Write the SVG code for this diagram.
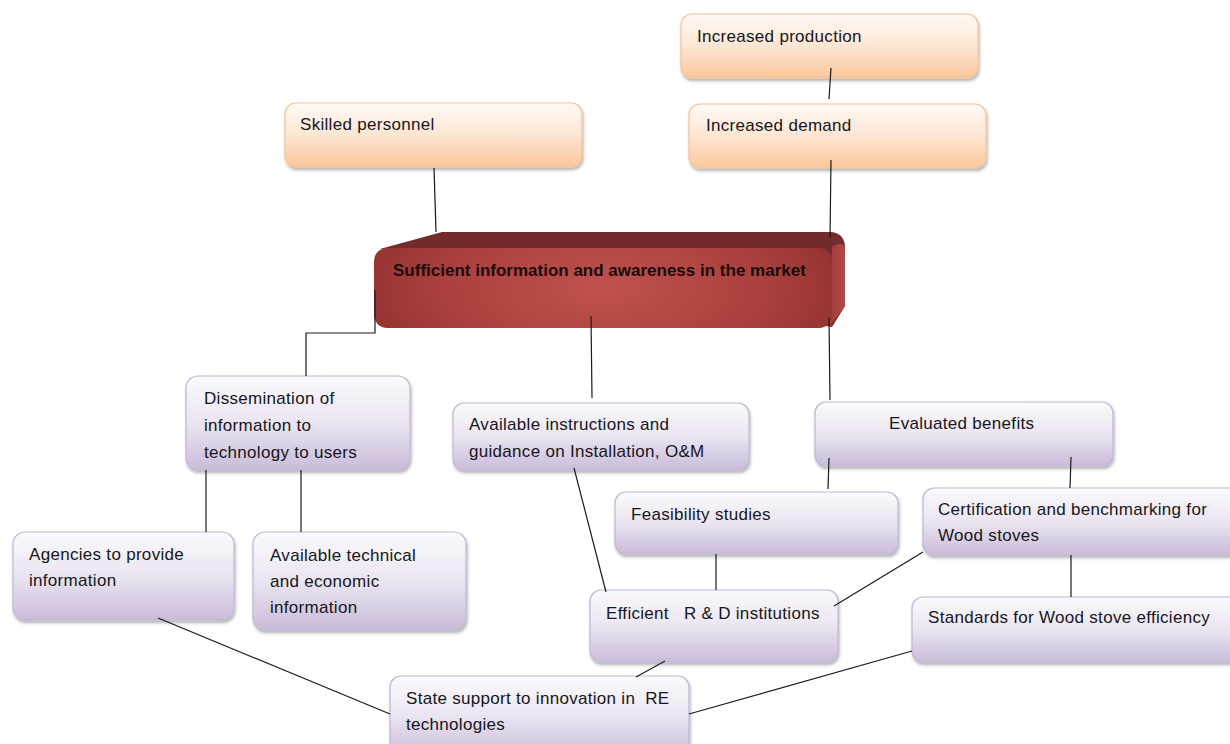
<svg xmlns="http://www.w3.org/2000/svg" width="1230" height="744" viewBox="0 0 1230 744">
<defs>
<linearGradient id="gPurple" x1="0" y1="0" x2="0" y2="1">
<stop offset="0" stop-color="#fbfafc"/>
<stop offset="0.5" stop-color="#ebe5f1"/>
<stop offset="1" stop-color="#c9bcda"/>
</linearGradient>
<linearGradient id="gOrange" x1="0" y1="0" x2="0" y2="1">
<stop offset="0" stop-color="#fffaf6"/>
<stop offset="0.5" stop-color="#fde6d3"/>
<stop offset="1" stop-color="#fbc79c"/>
</linearGradient>
<radialGradient id="gFront" cx="0.5" cy="0.5" r="0.6" gradientTransform="translate(0.5 0.5) scale(1 2.5) translate(-0.5 -0.5)">
<stop offset="0" stop-color="#c0514e"/>
<stop offset="0.6" stop-color="#a9403d"/>
<stop offset="1" stop-color="#8d2f2c"/>
</radialGradient>
<linearGradient id="gSide" x1="0" y1="0" x2="1" y2="0">
<stop offset="0" stop-color="#a13c39"/>
<stop offset="1" stop-color="#b24a47"/>
</linearGradient>
<filter id="sh" x="-5%" y="-10%" width="110%" height="130%">
<feDropShadow dx="1" dy="2.5" stdDeviation="1.5" flood-color="#000" flood-opacity="0.3"/>
</filter>
</defs>
<style>
.pbox{fill:url(#gPurple);stroke:#c2b5d6;stroke-width:1.2;filter:url(#sh)}
.obox{fill:url(#gOrange);stroke:#f6c29a;stroke-width:1.2;filter:url(#sh)}
.t{font-family:"Liberation Sans",Arial,sans-serif;font-size:17px;letter-spacing:0.3px;fill:#161620;white-space:pre}
.tb{font-family:"Liberation Sans",Arial,sans-serif;font-size:17px;font-weight:bold;fill:#1a0a0a}
.c{fill:none;stroke:#1a1a1a;stroke-width:1.2}
</style>
<rect width="1230" height="744" fill="#ffffff"/>

<g id="increased-production">
<rect class="obox" x="681" y="14" width="297" height="64" rx="11"/>
<text class="t" x="697" y="42">Increased production</text>
</g>
<g id="increased-demand">
<rect class="obox" x="689" y="104" width="297" height="64" rx="11"/>
<text class="t" x="706" y="131">Increased demand</text>
</g>
<g id="skilled-personnel">
<rect class="obox" x="285" y="103" width="297" height="64" rx="11"/>
<text class="t" x="300" y="130">Skilled personnel</text>
</g>

<g id="sufficient-information">
<path d="M380,249 L442,232 L832,232 Q845,234 845,248 L845,306 L832,327 Z" fill="#732b2b"/>
<path d="M832,247 Q845,240 845,250 L845,306 L830,326 Z" fill="url(#gSide)"/>
<rect x="374" y="248" width="458" height="80" rx="13" fill="url(#gFront)"/>
<text class="tb" x="393" y="276">Sufficient information and awareness in the market</text>
</g>

<g id="dissemination">
<rect class="pbox" x="186" y="376" width="224" height="94" rx="12"/>
<text class="t" x="204" y="404">Dissemination of</text>
<text class="t" x="204" y="431">information to</text>
<text class="t" x="204" y="458">technology to users</text>
</g>
<g id="available-instructions">
<rect class="pbox" x="453" y="403" width="296" height="67" rx="11"/>
<text class="t" x="469" y="430">Available instructions and</text>
<text class="t" x="469" y="457">guidance on Installation, O&amp;M</text>
</g>
<g id="evaluated-benefits">
<rect class="pbox" x="815" y="402" width="298" height="64" rx="11"/>
<text class="t" x="889" y="429">Evaluated benefits</text>
</g>
<g id="agencies">
<rect class="pbox" x="13" y="532" width="221" height="88" rx="12"/>
<text class="t" x="29" y="560">Agencies to provide</text>
<text class="t" x="29" y="586">information</text>
</g>
<g id="available-technical">
<rect class="pbox" x="253" y="532" width="213" height="98" rx="12"/>
<text class="t" x="270" y="561">Available technical</text>
<text class="t" x="270" y="587">and economic</text>
<text class="t" x="270" y="613">information</text>
</g>
<g id="feasibility">
<rect class="pbox" x="615" y="492" width="283" height="62" rx="11"/>
<text class="t" x="631" y="520">Feasibility studies</text>
</g>
<g id="certification">
<rect class="pbox" x="923" y="488" width="320" height="67" rx="11"/>
<text class="t" x="938" y="515">Certification and benchmarking for</text>
<text class="t" x="938" y="541">Wood stoves</text>
</g>
<g id="efficient-rd">
<rect class="pbox" x="590" y="590" width="248" height="72" rx="11"/>
<text class="t" x="606" y="619">Efficient   R &amp; D institutions</text>
</g>
<g id="standards">
<rect class="pbox" x="912" y="597" width="330" height="65" rx="11"/>
<text class="t" x="928" y="623">Standards for Wood stove efficiency</text>
</g>
<g id="state-support">
<rect class="pbox" x="390" y="676" width="299" height="80" rx="11"/>
<text class="t" x="406" y="704">State support to innovation in  RE</text>
<text class="t" x="406" y="730">technologies</text>
</g>

<g id="connectors">
<line class="c" x1="434" y1="168" x2="436" y2="232"/>
<line class="c" x1="831" y1="68" x2="829" y2="99"/>
<line class="c" x1="831" y1="160" x2="830" y2="238"/>
<polyline class="c" points="375,290 375,333 306,333 306,376"/>
<line class="c" x1="591" y1="316" x2="592" y2="398"/>
<line class="c" x1="829" y1="318" x2="830" y2="400"/>
<line class="c" x1="206" y1="470" x2="206" y2="532"/>
<line class="c" x1="301" y1="470" x2="301" y2="532"/>
<line class="c" x1="574" y1="468" x2="606" y2="592"/>
<line class="c" x1="829" y1="458" x2="828" y2="489"/>
<line class="c" x1="1071" y1="457" x2="1070" y2="488"/>
<line class="c" x1="716" y1="554" x2="716" y2="590"/>
<line class="c" x1="923" y1="552" x2="834" y2="606"/>
<line class="c" x1="1071" y1="555" x2="1071" y2="597"/>
<line class="c" x1="665" y1="661" x2="636" y2="677"/>
<line class="c" x1="158" y1="618" x2="390" y2="714"/>
<line class="c" x1="912" y1="651" x2="689" y2="714"/>
</g>
</svg>
